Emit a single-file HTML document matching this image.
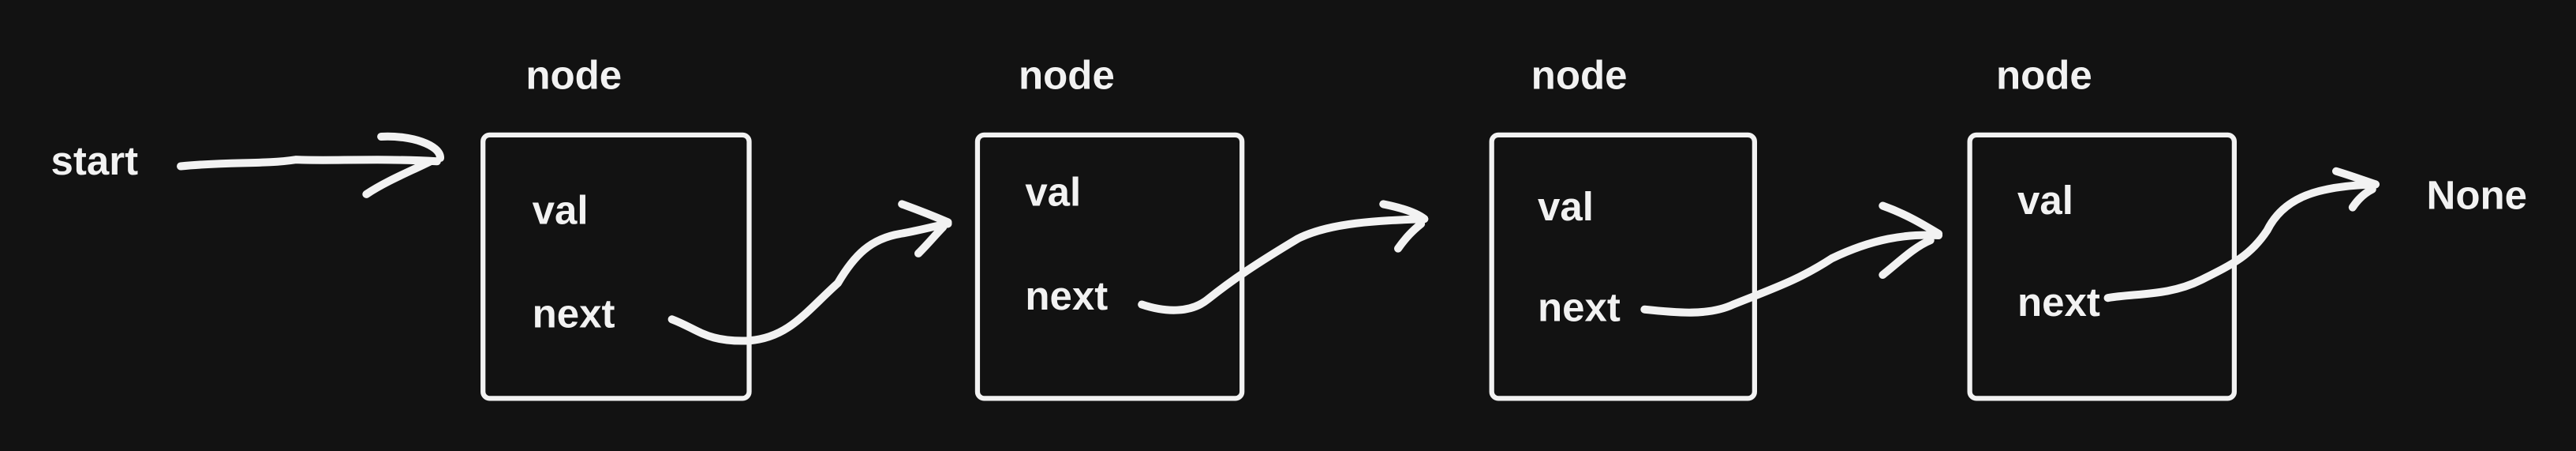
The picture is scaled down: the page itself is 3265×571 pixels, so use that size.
<!DOCTYPE html>
<html><head><meta charset="utf-8"><style>
html,body{margin:0;padding:0;background:#121212;}
svg{display:block;}
text{font-family:"Liberation Sans",sans-serif;font-weight:bold;fill:#f2f2f2;font-size:24.5px;}
</style></head><body>
<svg width="3265" height="571" viewBox="0 0 1568 274" preserveAspectRatio="none">
<rect width="1568" height="274" fill="#121212"/>
<g fill="none" stroke="#f2f2f2" stroke-width="3" stroke-linejoin="round">
<rect x="294" y="82" width="162" height="160" rx="4"/>
<rect x="595" y="82" width="161" height="160" rx="4"/>
<rect x="908" y="82" width="160" height="160" rx="4"/>
<rect x="1199" y="82" width="161" height="160" rx="4"/>
</g>
<g fill="none" stroke="#f2f2f2" stroke-width="4.8" stroke-linecap="round" stroke-linejoin="round">
<path d="M110 101 C140 98 160 100 180 97 C200 98 230 96 266 98"/>
<path d="M232 83 C250 82 268 88 268 96 M223 118 C235 110 250 104 262 98"/>
<path d="M409 194 C425 200 430 208 456 207 C480 205 490 190 510 172 C520 155 530 145 548 142 C560 140 570 137 577 136"/>
<path d="M549 124 C560 128 570 132 577 135 M559 154 C565 148 570 142 574 138"/>
<path d="M695 185 C710 190 725 190 735 182 C750 170 765 160 790 145 C810 135 840 134 867 133"/>
<path d="M842 124 C852 126 862 129 867 133 M851 151 C856 144 860 140 865 136"/>
<path d="M1001 188 C1020 190 1040 192 1055 185 C1080 175 1095 170 1115 157 C1140 145 1160 142 1180 143"/>
<path d="M1146 125 C1160 130 1170 136 1180 142 M1146 167 C1155 160 1165 150 1175 146"/>
<path d="M1283 181 C1300 178 1320 180 1340 170 C1360 160 1370 155 1380 140 C1390 120 1410 113 1446 112"/>
<path d="M1422 104 C1432 107 1440 110 1446 112 M1432 126 C1436 120 1440 117 1444 115"/>
</g>
<text x="31" y="106">start</text>
<text x="320" y="54">node</text>
<text x="620" y="54">node</text>
<text x="932" y="54">node</text>
<text x="1215" y="54">node</text>
<text x="324" y="136">val</text>
<text x="324" y="199">next</text>
<text x="624" y="125">val</text>
<text x="624" y="188">next</text>
<text x="936" y="134">val</text>
<text x="936" y="195">next</text>
<text x="1228" y="130">val</text>
<text x="1228" y="192">next</text>
<text x="1477" y="127">None</text>
</svg>
</body></html>
